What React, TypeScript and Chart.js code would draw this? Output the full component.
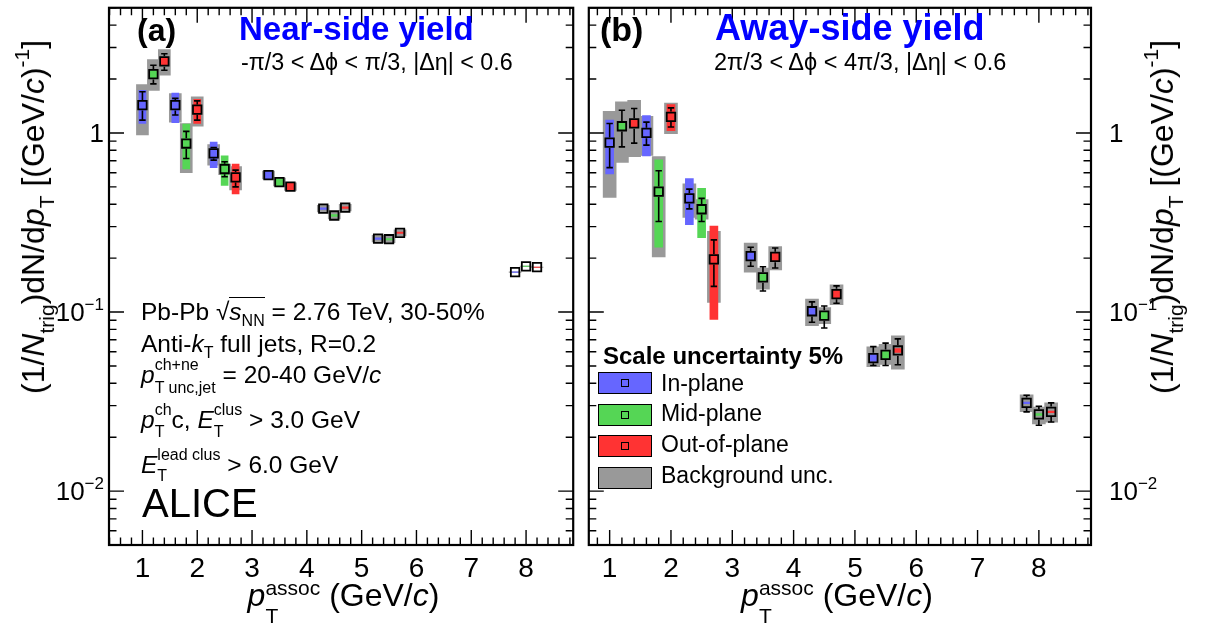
import React, { useEffect, useRef } from 'react';
import { Chart, registerables } from 'chart.js';

Chart.register(...registerables);

const FONT = '"Liberation Sans", Arial, Helvetica, sans-serif';
const BLUE = 'rgb(102,102,255)';
const GREEN = 'rgb(85,214,85)';
const RED = 'rgb(255,51,51)';
const GRAY = 'rgb(153,153,153)';

// pT positions of the three event-plane orientations
const xIn = [1.0, 1.6, 2.3, 3.3, 4.3, 5.3, 7.8];
const xMid = [1.2, 1.8, 2.5, 3.5, 4.5, 5.5, 8.0];
const xOut = [1.4, 2.0, 2.7, 3.7, 4.7, 5.7, 8.2];

// ---- (a) Near-side yield ----
const nearInY = [1.43, 1.43, 0.77, 0.582, 0.378, 0.257, 0.167];
const nearInStatLo = [1.18, 1.26, 0.705, 0.57, 0.372, 0.253, 0.165];
const nearInStatHi = [1.7, 1.56, 0.83, 0.595, 0.384, 0.261, 0.169];
const nearInSysLo = [1.13, 1.14, 0.64, 0.556, 0.374, 0.2545, 0.1665];
const nearInSysHi = [1.73, 1.67, 0.89, 0.608, 0.382, 0.2595, 0.1675];
const nearInBkgLo = [0.975, 1.15, 0.66, 0.553, 0.362, 0.246, 0.1665];
const nearInBkgHi = [1.86, 1.66, 0.86, 0.612, 0.394, 0.268, 0.1675];

const nearMidY = [2.13, 0.873, 0.629, 0.532, 0.346, 0.255, 0.18];
const nearMidStatLo = [1.88, 0.72, 0.57, 0.522, 0.34, 0.251, 0.178];
const nearMidStatHi = [2.39, 1.02, 0.69, 0.543, 0.352, 0.259, 0.182];
const nearMidSysLo = [2.03, 0.63, 0.51, 0.508, 0.342, 0.2525, 0.1795];
const nearMidSysHi = [2.23, 1.12, 0.745, 0.557, 0.35, 0.2575, 0.1805];
const nearMidBkgLo = [1.73, 0.6, 0.585, 0.506, 0.331, 0.244, 0.1795];
const nearMidBkgHi = [2.57, 1.13, 0.67, 0.56, 0.361, 0.266, 0.1805];

const nearOutY = [2.51, 1.35, 0.565, 0.501, 0.383, 0.277, 0.178];
const nearOutStatLo = [2.24, 1.18, 0.5, 0.491, 0.376, 0.272, 0.176];
const nearOutStatHi = [2.77, 1.51, 0.62, 0.511, 0.39, 0.282, 0.18];
const nearOutSysLo = [2.39, 1.13, 0.456, 0.479, 0.379, 0.2745, 0.1775];
const nearOutSysHi = [2.64, 1.54, 0.67, 0.524, 0.387, 0.2795, 0.1785];
const nearOutBkgLo = [2.1, 1.09, 0.48, 0.477, 0.367, 0.266, 0.1775];
const nearOutBkgHi = [2.92, 1.59, 0.65, 0.526, 0.399, 0.288, 0.1785];

// ---- (b) Away-side yield ----
const awayInY = [0.883, 1.0, 0.431, 0.205, 0.101, 0.0553, 0.0311];
const awayInStatLo = [0.64, 0.855, 0.377, 0.18, 0.0877, 0.0503, 0.0277];
const awayInStatHi = [1.13, 1.15, 0.486, 0.23, 0.114, 0.0641, 0.0343];
const awayInSysLo = [0.59, 0.745, 0.308, 0.195, 0.096, 0.053, 0.0308];
const awayInSysHi = [1.18, 1.25, 0.557, 0.215, 0.106, 0.058, 0.0314];
const awayInBkgLo = [0.437, 0.75, 0.338, 0.167, 0.084, 0.0495, 0.0278];
const awayInBkgHi = [1.32, 1.24, 0.52, 0.243, 0.118, 0.064, 0.0345];

const awayMidY = [1.09, 0.47, 0.375, 0.156, 0.0955, 0.0577, 0.0268];
const awayMidStatLo = [0.836, 0.32, 0.32, 0.131, 0.0815, 0.0503, 0.0233];
const awayMidStatHi = [1.34, 0.615, 0.431, 0.179, 0.108, 0.067, 0.0298];
const awayMidSysLo = [1.03, 0.23, 0.26, 0.148, 0.091, 0.055, 0.0265];
const awayMidSysHi = [1.15, 0.708, 0.49, 0.164, 0.1, 0.0605, 0.0271];
const awayMidBkgLo = [0.684, 0.203, 0.33, 0.134, 0.086, 0.051, 0.0237];
const awayMidBkgHi = [1.49, 0.738, 0.425, 0.176, 0.106, 0.066, 0.0295];

const awayOutY = [1.13, 1.23, 0.197, 0.203, 0.126, 0.061, 0.0277];
const awayOutStatLo = [0.877, 1.08, 0.139, 0.176, 0.112, 0.0508, 0.0243];
const awayOutStatHi = [1.37, 1.38, 0.253, 0.228, 0.14, 0.0708, 0.0311];
const awayOutSysLo = [1.07, 1.03, 0.091, 0.193, 0.12, 0.0595, 0.0274];
const awayOutSysHi = [1.19, 1.44, 0.302, 0.213, 0.132, 0.0625, 0.028];
const awayOutBkgLo = [0.738, 0.99, 0.113, 0.172, 0.11, 0.048, 0.0243];
const awayOutBkgHi = [1.52, 1.47, 0.282, 0.232, 0.142, 0.0737, 0.0311];

// ticks
const xTickValues = [1, 2, 3, 4, 5, 6, 7, 8];
const xTickLabels = ['1', '2', '3', '4', '5', '6', '7', '8'];
const yTickValues = [1, 0.1, 0.01];
const yTickBase = ['1', '10', '10'];
const yTickExp = ['', '\u22121', '\u22122'];

type Series = {
  x: number[]; y: number[];
  statLo: number[]; statHi: number[];
  sysLo: number[]; sysHi: number[];
  bkgLo: number[]; bkgHi: number[];
  color: string;
};

const nearSeries: Series[] = [
  { x: xIn, y: nearInY, statLo: nearInStatLo, statHi: nearInStatHi, sysLo: nearInSysLo, sysHi: nearInSysHi, bkgLo: nearInBkgLo, bkgHi: nearInBkgHi, color: BLUE },
  { x: xMid, y: nearMidY, statLo: nearMidStatLo, statHi: nearMidStatHi, sysLo: nearMidSysLo, sysHi: nearMidSysHi, bkgLo: nearMidBkgLo, bkgHi: nearMidBkgHi, color: GREEN },
  { x: xOut, y: nearOutY, statLo: nearOutStatLo, statHi: nearOutStatHi, sysLo: nearOutSysLo, sysHi: nearOutSysHi, bkgLo: nearOutBkgLo, bkgHi: nearOutBkgHi, color: RED },
];
const awaySeries: Series[] = [
  { x: xIn, y: awayInY, statLo: awayInStatLo, statHi: awayInStatHi, sysLo: awayInSysLo, sysHi: awayInSysHi, bkgLo: awayInBkgLo, bkgHi: awayInBkgHi, color: BLUE },
  { x: xMid, y: awayMidY, statLo: awayMidStatLo, statHi: awayMidStatHi, sysLo: awayMidSysLo, sysHi: awayMidSysHi, bkgLo: awayMidBkgLo, bkgHi: awayMidBkgHi, color: GREEN },
  { x: xOut, y: awayOutY, statLo: awayOutStatLo, statHi: awayOutStatHi, sysLo: awayOutSysLo, sysHi: awayOutSysHi, bkgLo: awayOutBkgLo, bkgHi: awayOutBkgHi, color: RED },
];

const MARKER_R = 6;

const errPlugin = {
  id: 'statErrors',
  beforeDatasetDraw(chart: any, args: any) {
    const ds = chart.data.datasets[args.index];
    if (!ds.statLo) return;
    const { ctx } = chart;
    const xs = chart.scales.x;
    const ys = chart.scales.y;
    const m = MARKER_R * Math.SQRT1_2 + 1;
    ctx.save();
    ctx.strokeStyle = '#000';
    ctx.lineWidth = 1.6;
    ctx.beginPath();
    ds.data.forEach((p: any, i: number) => {
      const px = xs.getPixelForValue(p.x);
      const yc = ys.getPixelForValue(p.y);
      const yh = ys.getPixelForValue(ds.statHi[i]);
      const yl = ys.getPixelForValue(ds.statLo[i]);
      if (yh < yc - m) {
        ctx.moveTo(px, yc - m); ctx.lineTo(px, yh);
        ctx.moveTo(px - 3.2, yh); ctx.lineTo(px + 3.2, yh);
      }
      if (yl > yc + m) {
        ctx.moveTo(px, yc + m); ctx.lineTo(px, yl);
        ctx.moveTo(px - 3.2, yl); ctx.lineTo(px + 3.2, yl);
      }
    });
    ctx.stroke();
    ctx.restore();
  },
};

function makeAxisPlugin(labelSide: 'left' | 'right') {
  return {
    id: 'rootAxes',
    afterDraw(chart: any) {
      const { ctx, chartArea } = chart;
      const { left, right, top, bottom } = chartArea;
      const xs = chart.scales.x;
      const ys = chart.scales.y;
      ctx.save();
      ctx.strokeStyle = '#000';
      ctx.lineWidth = 1.4;
      ctx.beginPath();
      const k0 = Math.ceil(xs.min * 5 - 1e-6);
      const k1 = Math.floor(xs.max * 5 + 1e-6);
      for (let k = k0; k <= k1; k++) {
        const px = xs.getPixelForValue(k / 5);
        const len = k % 5 === 0 ? 15 : 7.5;
        ctx.moveTo(px, bottom); ctx.lineTo(px, bottom - len);
        ctx.moveTo(px, top); ctx.lineTo(px, top + len);
      }
      for (let d = -3; d <= 1; d++) {
        for (let mm = 1; mm <= 9; mm++) {
          const v = mm * Math.pow(10, d);
          if (v < ys.min * 0.999 || v > ys.max * 1.001) continue;
          const py = ys.getPixelForValue(v);
          const len = mm === 1 ? 15 : 7.5;
          ctx.moveTo(left, py); ctx.lineTo(left + len, py);
          ctx.moveTo(right, py); ctx.lineTo(right - len, py);
        }
      }
      ctx.stroke();
      ctx.lineWidth = 2.2;
      ctx.strokeRect(left, top, right - left, bottom - top);

      ctx.fillStyle = '#000';
      ctx.textBaseline = 'alphabetic';
      ctx.font = `28px ${FONT}`;
      ctx.textAlign = 'center';
      xTickValues.forEach((v, i) => {
        ctx.fillText(xTickLabels[i], xs.getPixelForValue(v), bottom + 32);
      });
      ctx.textAlign = 'left';
      yTickValues.forEach((v, i) => {
        const py = ys.getPixelForValue(v) + 9.3;
        ctx.font = `26px ${FONT}`;
        const wb = ctx.measureText(yTickBase[i]).width;
        ctx.font = `17px ${FONT}`;
        const we = yTickExp[i] ? ctx.measureText(yTickExp[i]).width : 0;
        const x0 = labelSide === 'left' ? left - 5 - wb - we : right + 18;
        ctx.font = `26px ${FONT}`;
        ctx.fillText(yTickBase[i], x0, py);
        if (yTickExp[i]) {
          ctx.font = `17px ${FONT}`;
          ctx.fillText(yTickExp[i], x0 + wb, py - 11);
        }
      });
      ctx.restore();
    },
  };
}

function buildDatasets(series: Series[], grayW: number, colW: number) {
  const ds: any[] = [];
  series.forEach((s, k) => {
    ds.push({
      type: 'bar',
      data: s.x.map((x, i) => ({ x, y: [s.bkgLo[i], s.bkgHi[i]] })),
      backgroundColor: GRAY, borderWidth: 0, barThickness: grayW, grouped: false, order: 30 - k,
    });
  });
  series.forEach((s, k) => {
    ds.push({
      type: 'bar',
      data: s.x.map((x, i) => ({ x, y: [s.sysLo[i], s.sysHi[i]] })),
      backgroundColor: s.color, borderWidth: 0, barThickness: colW, grouped: false, order: 20 - k,
    });
  });
  series.forEach((s, k) => {
    ds.push({
      type: 'scatter',
      data: s.x.map((x, i) => ({ x, y: s.y[i] })),
      pointStyle: 'rect', pointRadius: MARKER_R, borderColor: '#000', borderWidth: 1.8,
      backgroundColor: 'rgba(0,0,0,0)', showLine: false, order: 10 - k,
      statLo: s.statLo, statHi: s.statHi,
    });
  });
  return ds;
}

function Panel(props: {
  left: number; width: number; series: Series[]; xMin: number; xMax: number;
  padL: number; padR: number; grayW: number; colW: number; side: 'left' | 'right';
}) {
  const ref = useRef<HTMLCanvasElement | null>(null);
  useEffect(() => {
    if (!ref.current) return;
    const chart = new Chart(ref.current, {
      type: 'bar',
      data: { datasets: buildDatasets(props.series, props.grayW, props.colW) },
      options: {
        responsive: false,
        animation: false,
        events: [],
        layout: { padding: { left: props.padL, right: props.padR, top: 6, bottom: 84 } },
        plugins: { legend: { display: false }, tooltip: { enabled: false } },
        scales: {
          x: { type: 'linear', min: props.xMin, max: props.xMax, display: false, offset: false },
          y: { type: 'logarithmic', min: 0.005, max: 5, display: false },
        },
      } as any,
      plugins: [errPlugin as any, makeAxisPlugin(props.side) as any],
    });
    return () => chart.destroy();
  }, []);
  return (
    <canvas ref={ref} width={props.width} height={629}
      style={{ position: 'absolute', left: props.left, top: 0, width: props.width, height: 629 }} />
  );
}

const Sup = ({ s, d, children }: any) => (
  <span style={{ fontSize: s, position: 'relative', top: -d }}>{children}</span>
);
const Sub = ({ s, d, children }: any) => (
  <span style={{ fontSize: s, position: 'relative', top: d }}>{children}</span>
);
const Stack = ({ s, dSup, dSub, sup, sub }: any) => (
  <span style={{ display: 'inline-block', fontSize: s, lineHeight: 0, fontStyle: 'normal' }}>
    <span style={{ display: 'block', position: 'relative', top: -dSup }}>{sup}</span>
    <span style={{ display: 'block', position: 'relative', top: dSub }}>{sub}</span>
  </span>
);
const Txt = ({ x, y, fs, bold, color, center, children }: any) => (
  <div style={{
    position: 'absolute', left: x, top: y - 0.3465 * fs, fontSize: fs, lineHeight: 0,
    whiteSpace: 'nowrap', fontWeight: bold ? 700 : 400, color: color || '#000',
    transform: center ? 'translateX(-50%)' : undefined,
  }}>{children}</div>
);
const VTitle = ({ x, children }: any) => (
  <div style={{
    position: 'absolute', left: x - 0.3465 * 32, top: 217, fontSize: 32, lineHeight: 0,
    whiteSpace: 'nowrap', transformOrigin: '0 0', transform: 'rotate(-90deg) translateX(-50%)',
  }}>{children}</div>
);

const YTitleContent = () => (
  <>
    (1/<i>N</i><Sub s={21} d={10}>trig</Sub>)dN/d<i>p</i><Sub s={21} d={10}>T</Sub> [(GeV/<i>c</i>)<Sup s={21} d={15}>-1</Sup>]
  </>
);
const XTitleContent = () => (
  <>
    <i>p</i><Stack s={21} dSup={11} dSub={17} sup="assoc" sub="T" /> (GeV/<i>c</i>)
  </>
);

const LegendBox = ({ y, color, marker }: any) => (
  <div style={{
    position: 'absolute', left: 598, top: y, width: 54, height: 22, boxSizing: 'border-box',
    border: '1.5px solid #000', background: color,
  }}>
    {marker && (
      <div style={{
        position: 'absolute', left: 21.5, top: 5.5, width: 8, height: 8, boxSizing: 'border-box',
        border: '1.7px solid #000',
      }} />
    )}
  </div>
);

export default function App() {
  const s = 16;
  const fi = 24.5;
  return (
    <div style={{
      position: 'absolute', left: 0, top: 0, width: 1218, height: 629, background: '#fff',
      overflow: 'hidden', fontFamily: FONT, color: '#000',
    }}>
      <Panel left={0} width={581} series={nearSeries} xMin={0.39} xMax={8.86}
        padL={109} padR={3} grayW={12} colW={7} side="left" />
      <Panel left={581} width={637} series={awaySeries} xMin={0.66} xMax={8.85}
        padL={2.5} padR={127} grayW={13} colW={8} side="right" />

      {/* panel (a) texts */}
      <Txt x={137} y={41} fs={32} bold>(a)</Txt>
      <Txt x={239} y={40} fs={33} bold color="#0000ff">Near-side yield</Txt>
      <Txt x={241} y={70} fs={23.3}>-π/3 &lt; Δϕ &lt; π/3, |Δη| &lt; 0.6</Txt>

      <Txt x={141} y={320} fs={fi}>
        Pb-Pb √<span style={{ borderTop: '1.5px solid #000' }}><i>s</i><Sub s={s} d={6}>NN</Sub></span> = 2.76 TeV, 30-50%
      </Txt>
      <Txt x={141} y={352} fs={fi}>
        Anti-<i>k</i><Sub s={s} d={6}>T</Sub> full jets, R=0.2
      </Txt>
      <Txt x={141} y={383} fs={fi}>
        <i>p</i><Stack s={s} dSup={13} dSub={10} sup="ch+ne" sub="T unc,jet" /> = 20-40 GeV/<i>c</i>
      </Txt>
      <Txt x={141} y={428} fs={fi}>
        <i>p</i><Stack s={s} dSup={13} dSub={9} sup="ch" sub="T" />c, <i>E</i><Stack s={s} dSup={13} dSub={9} sup="clus" sub="T" /> &gt; 3.0 GeV
      </Txt>
      <Txt x={141} y={473} fs={fi}>
        <i>E</i><Stack s={s} dSup={13} dSub={8} sup="lead clus" sub="T" /> &gt; 6.0 GeV
      </Txt>
      <Txt x={142} y={517} fs={40}>ALICE</Txt>

      {/* panel (b) texts */}
      <Txt x={600} y={41} fs={34} bold>(b)</Txt>
      <Txt x={715} y={40} fs={36} bold color="#0000ff">Away-side yield</Txt>
      <Txt x={714} y={70} fs={23.5}>2π/3 &lt; Δϕ &lt; 4π/3, |Δη| &lt; 0.6</Txt>

      <Txt x={603} y={364} fs={24} bold>Scale uncertainty 5%</Txt>
      <LegendBox y={372} color={BLUE} marker />
      <LegendBox y={404} color={GREEN} marker />
      <LegendBox y={435} color={RED} marker />
      <LegendBox y={467} color={GRAY} />
      <Txt x={661} y={391} fs={23}>In-plane</Txt>
      <Txt x={661} y={421} fs={23}>Mid-plane</Txt>
      <Txt x={661} y={452} fs={23}>Out-of-plane</Txt>
      <Txt x={661} y={483} fs={23}>Background unc.</Txt>

      {/* axis titles */}
      <Txt x={343.5} y={606} fs={32} center><XTitleContent /></Txt>
      <Txt x={837} y={606} fs={32} center><XTitleContent /></Txt>
      <VTitle x={44}><YTitleContent /></VTitle>
      <VTitle x={1173}><YTitleContent /></VTitle>
    </div>
  );
}
